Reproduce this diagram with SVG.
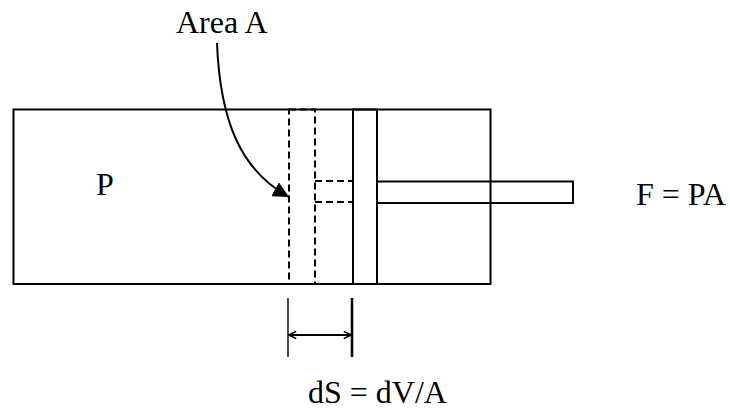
<svg xmlns="http://www.w3.org/2000/svg" width="730" height="416" viewBox="0 0 730 416">
<style>
.s{fill:none;stroke:#000;stroke-width:2}
.d{fill:none;stroke:#000;stroke-width:2;stroke-dasharray:7,4}
.t{font-family:"Liberation Serif","Times New Roman",serif;font-size:32px;fill:#000}
</style>
<defs>
<marker id="fa" viewBox="0 0 10 10" refX="10" refY="5" markerWidth="16" markerHeight="16" markerUnits="userSpaceOnUse" orient="auto"><path d="M0,0 L10,5 L0,10 z" fill="#000"/></marker>
<marker id="oa" viewBox="0 0 10 10" refX="9" refY="5" markerWidth="9" markerHeight="9" markerUnits="userSpaceOnUse" orient="auto-start-reverse"><path d="M1,1 L9,5 L1,9" fill="none" stroke="#000" stroke-width="1.8"/></marker>
</defs>
<rect width="730" height="416" fill="#fff"/>
<g id="cylinder">
<rect class="s" x="13.5" y="109.5" width="477" height="174.5"/>
</g>
<g id="old-piston">
<rect class="d" x="289" y="109.5" width="26" height="174.5"/>
<path class="d" d="M315,181 H353 M315,202 H353"/>
</g>
<g id="piston">
<rect class="s" x="353" y="109.5" width="24" height="174.5" fill="#fff"/>
</g>
<g id="rod">
<rect class="s" x="377" y="181.5" width="196" height="21.5" fill="#fff"/>
</g>
<g id="connectors">
<path class="s" d="M217,43 C220,120 240,170 289,197" marker-end="url(#fa)" stroke-width="1.8"/>
<line x1="288" y1="298" x2="288" y2="357" stroke="#000" stroke-width="1.4"/>
<line x1="352" y1="298" x2="352" y2="357" stroke="#000" stroke-width="2.6"/>
<line x1="289" y1="335" x2="351" y2="335" stroke="#000" stroke-width="1.8" marker-start="url(#oa)" marker-end="url(#oa)"/>
</g>
<g id="labels">
<text class="t" x="176" y="33">Area A</text>
<text class="t" x="96" y="195">P</text>
<text class="t" x="636" y="205">F = PA</text>
<text class="t" x="308" y="403">dS = dV/A</text>
</g>
</svg>
